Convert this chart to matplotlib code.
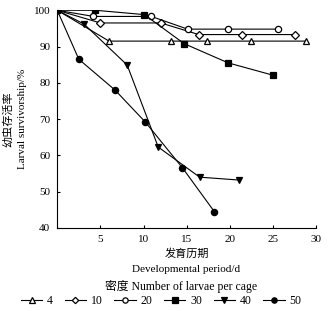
import matplotlib
matplotlib.use('Agg')
import matplotlib.pyplot as plt

plt.rcParams['font.family'] = ['Liberation Serif', 'Noto Sans CJK SC']
plt.rcParams['font.size'] = 8

# survival curves, one per density
x4 = [0, 6.0, 13.2, 17.4, 22.5, 28.8]
y4 = [100, 91.5, 91.5, 91.5, 91.5, 91.5]
x10 = [0, 5.0, 12.0, 16.4, 21.4, 27.6]
y10 = [100, 96.5, 96.5, 93.3, 93.3, 93.3]
x20 = [0, 4.2, 10.9, 15.1, 19.8, 25.6]
y20 = [100, 98.3, 98.3, 94.8, 94.8, 94.8]
x30 = [0, 4.4, 10.1, 14.7, 19.8, 25.0]
y30 = [100, 100, 98.8, 90.8, 85.5, 82.1]
x40 = [0, 3.1, 8.1, 11.7, 16.5, 21.1]
y40 = [100, 96.2, 84.9, 62.3, 54.0, 53.2]
x50 = [0, 2.5, 6.7, 10.2, 14.5, 18.2]
y50 = [100, 86.5, 78.0, 69.2, 56.6, 44.5]
labels = ['4', '10', '20', '30', '40', '50']

fig = plt.figure(figsize=(3.29, 3.11), dpi=100)
ax = fig.add_axes([0.174, 0.267, 0.787, 0.70])

kw = dict(color='black', lw=0.8, markersize=4.5, markeredgewidth=0.9)
ax.plot(x4, y4, marker='^', mfc='white', label=labels[0], **kw)
ax.plot(x10, y10, marker='D', mfc='white', label=labels[1], markersize=3.8, color='black', lw=0.8, markeredgewidth=0.9)
ax.plot(x20, y20, marker='o', mfc='white', label=labels[2], **kw)
ax.plot(x30, y30, marker='s', mfc='black', label=labels[3], **kw)
ax.plot(x40, y40, marker='v', mfc='black', label=labels[4], **kw)
ax.plot(x50, y50, marker='o', mfc='black', label=labels[5], **kw)

ax.set_xlim(0, 30)
ax.set_ylim(40, 100)
ax.set_xticks([5, 10, 15, 20, 25, 30])
ax.set_yticks([40, 50, 60, 70, 80, 90, 100])
ax.spines['top'].set_visible(False)
ax.spines['right'].set_visible(False)
ax.tick_params(direction='in', length=2.5, width=0.8, labelsize=8, pad=5)

fig.text(0.024, 0.617, '幼虫存活率', rotation=90, ha='center', va='center', fontsize=8)
fig.text(0.068, 0.617, 'Larval survivorship/%', rotation=90, ha='center', va='center', fontsize=8)
fig.text(0.567, 0.183, '发育历期', ha='center', va='center', fontsize=8)
fig.text(0.567, 0.132, 'Developmental period/d', ha='center', va='center', fontsize=8)
fig.text(0.55, 0.078, '密度 Number of larvae per cage', ha='center', va='center', fontsize=8.5)

fig.legend(loc='center', bbox_to_anchor=(0.49, 0.032), ncol=6, frameon=False,
           handlelength=1.8, handletextpad=0.4, columnspacing=1.0, fontsize=8.5,
           markerscale=0.85, borderaxespad=0, borderpad=0)

fig.savefig('out.png', dpi=100)
